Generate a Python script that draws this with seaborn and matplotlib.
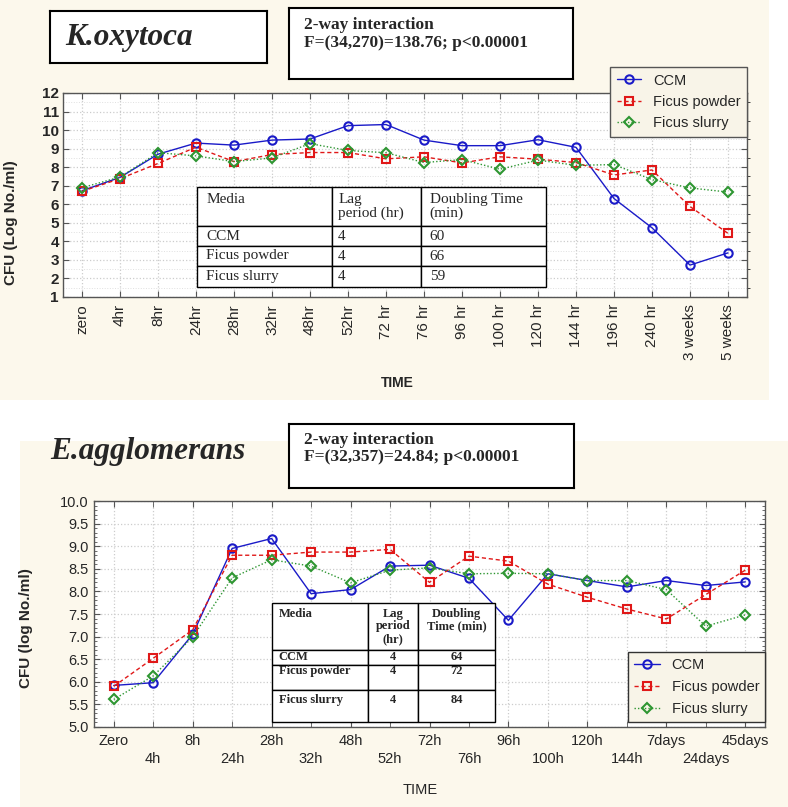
import numpy as np
import matplotlib
matplotlib.use("Agg")
import matplotlib.pyplot as plt
import seaborn as sns
from matplotlib.patches import Rectangle
from matplotlib.ticker import MultipleLocator

# ------------------------------------------------------------------
# Data
# ------------------------------------------------------------------
ko_times = ["zero", "4hr", "8hr", "24hr", "28hr", "32hr", "48hr", "52hr",
            "72 hr", "76 hr", "96 hr", "100 hr", "120 hr", "144 hr",
            "196 hr", "240 hr", "3 weeks", "5 weeks"]
ko_ccm = [6.73, 7.45, 8.70, 9.30, 9.19, 9.46, 9.52, 10.24, 10.30, 9.46,
          9.16, 9.16, 9.48, 9.07, 6.31, 4.73, 2.72, 3.38]
ko_powder = [6.70, 7.38, 8.20, 9.08, 8.30, 8.68, 8.79, 8.79, 8.45, 8.56,
             8.23, 8.56, 8.43, 8.25, 7.58, 7.85, 5.88, 4.43]
ko_slurry = [6.89, 7.47, 8.78, 8.61, 8.30, 8.50, 9.27, 8.90, 8.78, 8.25,
             8.41, 7.89, 8.38, 8.10, 8.14, 7.33, 6.88, 6.66]

ea_times = ["Zero", "4h", "8h", "24h", "28h", "32h", "48h", "52h", "72h",
            "76h", "96h", "100h", "120h", "144h", "7days", "24days", "45days"]
ea_ccm = [5.92, 5.98, 7.05, 8.95, 9.17, 7.95, 8.04, 8.56, 8.58, 8.29,
          7.36, 8.39, 8.24, 8.10, 8.24, 8.13, 8.21]
ea_powder = [5.90, 6.52, 7.15, 8.80, 8.80, 8.87, 8.87, 8.93, 8.20, 8.78,
             8.67, 8.16, 7.87, 7.61, 7.39, 7.93, 8.47]
ea_slurry = [5.61, 6.13, 6.99, 8.30, 8.70, 8.56, 8.19, 8.47, 8.52, 8.39,
             8.40, 8.39, 8.24, 8.24, 8.04, 7.23, 7.48]

media = ["CCM", "Ficus powder", "Ficus slurry"]
lag_hr = [4, 4, 4]
ko_doubling = [60, 66, 59]
ea_doubling = [64, 72, 84]

# ------------------------------------------------------------------
# Style
# ------------------------------------------------------------------
W, H = 788, 807
CREAM = "#fcf8ec"
BLUE = "#1a1ac8"
RED = "#e01818"
GREEN = "#2e9632"
SANS = "Liberation Sans"
SERIF = "Liberation Serif"

sns.set_style("ticks")
plt.rcParams["font.family"] = [SANS, "DejaVu Sans"]

fig = plt.figure(figsize=(W / 100, H / 100), dpi=100, facecolor="white")


def px_axes(x0, y0, x1, y1):
    """axes placed in reference pixel coordinates (origin top-left)"""
    return fig.add_axes([x0 / W, 1 - y1 / H, (x1 - x0) / W, (y1 - y0) / H])


def box(x0, y0, x1, y1, lw=1.5):
    b = px_axes(x0, y0, x1, y1)
    b.set_xlim(x0, x1)
    b.set_ylim(y1, y0)
    b.set_xticks([])
    b.set_yticks([])
    b.set_facecolor("white")
    for s in b.spines.values():
        s.set_linewidth(lw)
        s.set_color("black")
    return b


# cream panels behind each chart
fig.patches.append(Rectangle((0, 1 - 400 / H), 769 / W, 400 / H,
                             transform=fig.transFigure, facecolor=CREAM,
                             edgecolor="none", zorder=-10))
fig.patches.append(Rectangle((20 / W, 0), (W - 20) / W, (H - 441) / H,
                             transform=fig.transFigure, facecolor=CREAM,
                             edgecolor="none", zorder=-10))


def draw_series(ax, times, ccm, powder, slurry):
    x = np.arange(len(times))
    series = [
        ("CCM", ccm, BLUE, "o", "-"),
        ("Ficus powder", powder, RED, "s", (0, (3, 2))),
        ("Ficus slurry", slurry, GREEN, "D", (0, (1, 1.5))),
    ]
    for name, vals, color, marker, ls in series:
        sns.lineplot(x=x, y=vals, ax=ax, color=color, marker=marker,
                     linestyle=ls, lw=1.0, markersize=6 if marker != "D" else 5,
                     markerfacecolor="none", markeredgecolor=color,
                     markeredgewidth=1.5, label=name, sort=False,
                     errorbar=None, legend=False)
    ax.set_xlim(-0.5, len(times) - 0.5)
    ax.set_xticks(x)
    ax.set_facecolor("white")
    for s in ax.spines.values():
        s.set_visible(True)
        s.set_color("#555555")
        s.set_linewidth(1.0)
    ax.tick_params(direction="in", top=True, right=True, length=4,
                   color="#555555")
    ax.set_xlabel("")
    ax.set_ylabel("")
    return x


def make_table(x0, y0, col_px, row_px, rows, fontsize, weight, aligns):
    tax = px_axes(x0, y0, x0 + sum(col_px), y0 + sum(row_px))
    tax.axis("off")
    tbl = tax.table(cellText=rows, colWidths=col_px, bbox=[0, 0, 1, 1],
                    cellLoc="left")
    tbl.auto_set_font_size(False)
    tbl.set_fontsize(fontsize)
    for (r, c), cell in tbl.get_celld().items():
        cell.set_height(row_px[r])
        cell.set_linewidth(1.0)
        cell.set_edgecolor("black")
        cell.set_facecolor("white")
        cell.PAD = 0.07
        cell.set_text_props(family=SERIF, weight=weight, ha=aligns[c],
                            linespacing=1.05)
        cell._loc = aligns[c]
    return tbl


def style_legend(leg, edge):
    frame = leg.get_frame()
    frame.set_facecolor("#f8f4e8")
    frame.set_edgecolor(edge)
    frame.set_alpha(1)


# ------------------------------------------------------------------
# Top chart: K.oxytoca
# ------------------------------------------------------------------
ax1 = px_axes(63, 93, 747, 297)
draw_series(ax1, ko_times, ko_ccm, ko_powder, ko_slurry)
ax1.set_ylim(1, 12)
ax1.set_yticks(range(1, 13))
ax1.yaxis.set_minor_locator(MultipleLocator(0.5))
ax1.grid(True, which="major", color="#cccccc", ls=":", lw=0.9)
ax1.grid(True, which="minor", axis="y", color="#e0e0e0", ls=":", lw=0.7)
ax1.tick_params(which="minor", left=False, right=True, length=2)
ax1.set_xticklabels(ko_times, rotation=90, fontsize=11)
ax1.tick_params(axis="x", pad=5)
for lab in ax1.get_yticklabels():
    lab.set_fontweight("bold")
    lab.set_fontsize(11)
ax1.tick_params(axis="y", pad=3)
ax1.set_ylabel("CFU (Log No./ml)", fontsize=11, fontweight="bold")
ax1.yaxis.set_label_coords((18 - 63) / 684, (297 - 223) / 204)
fig.text(397 / W, 1 - 383 / H, "TIME", ha="center", va="center",
         fontsize=10, fontweight="bold")

leg1 = ax1.legend(loc="upper left", bbox_to_anchor=(610 / W, 1 - 67 / H),
                  bbox_transform=fig.transFigure, fontsize=10.5,
                  frameon=True, fancybox=False, handlelength=1.7,
                  handletextpad=0.8, borderpad=0.45, labelspacing=0.5,
                  borderaxespad=0)
style_legend(leg1, "#555555")

make_table(197, 187, [135, 89, 125], [39, 20, 20, 21],
           [["Media\n", "Lag\nperiod (hr)", "Doubling Time\n(min)"]]
           + [[m, str(l), str(d)] for m, l, d in zip(media, lag_hr, ko_doubling)],
           11, "normal", ["left", "left", "left"])

b = box(50, 11, 267, 63)
b.text(65, 37, "K.oxytoca", ha="left", va="center", fontsize=22.5,
       fontweight="bold", fontstyle="italic", family=SERIF)
b = box(289, 8, 573, 79)
b.text(304, 17, "2-way interaction\nF=(34,270)=138.76; p<0.00001",
       ha="left", va="top", fontsize=12.5, fontweight="bold",
       family=SERIF, linespacing=1.2)

# ------------------------------------------------------------------
# Bottom chart: E.agglomerans
# ------------------------------------------------------------------
ax2 = px_axes(94, 501, 765, 727)
x2 = draw_series(ax2, ea_times, ea_ccm, ea_powder, ea_slurry)
ax2.set_ylim(5.0, 10.0)
ax2.set_yticks(np.arange(5.0, 10.01, 0.5))
ax2.set_yticklabels([f"{v:.1f}" for v in np.arange(5.0, 10.01, 0.5)],
                    fontsize=10.5)
ax2.yaxis.set_minor_locator(MultipleLocator(0.1))
# staggered time labels: even positions on the first row, odd on the second
ax2.set_xticks(x2[::2])
ax2.set_xticklabels(ea_times[::2], fontsize=10.5)
ax2.set_xticks(x2[1::2], minor=True)
ax2.set_xticklabels(ea_times[1::2], minor=True, fontsize=10.5)
ax2.tick_params(axis="x", which="major", pad=5)
ax2.tick_params(axis="x", which="minor", pad=18, length=4, direction="in",
                top=True, color="#555555")
ax2.tick_params(axis="y", which="minor", left=True, right=True, length=2,
                direction="in", color="#555555")
ax2.grid(True, which="major", color="#cccccc", ls=":", lw=0.9)
ax2.grid(True, which="minor", axis="x", color="#cccccc", ls=":", lw=0.9)
ax2.tick_params(axis="y", pad=4)
ax2.set_ylabel("CFU (log No./ml)", fontsize=11, fontweight="bold")
ax2.yaxis.set_label_coords((33 - 94) / 671, (727 - 628) / 226)
fig.text(420 / W, 1 - 790 / H, "TIME", ha="center", va="center",
         fontsize=10.5)

leg2 = ax2.legend(loc="upper left", bbox_to_anchor=(628 / W, 1 - 652 / H),
                  bbox_transform=fig.transFigure, fontsize=10.5,
                  frameon=True, fancybox=False, handlelength=1.8,
                  handletextpad=0.8, borderpad=0.4, labelspacing=0.55,
                  borderaxespad=0)
style_legend(leg2, "#333333")

make_table(272, 603, [96, 50, 77], [47, 15, 25, 32],
           [["Media\n\n", "Lag\nperiod\n(hr)", "Doubling\nTime (min)\n"]]
           + [["CCM", str(lag_hr[0]), str(ea_doubling[0])],
              ["Ficus powder\n", f"{lag_hr[1]}\n", f"{ea_doubling[1]}\n"],
              ["Ficus slurry\n", f"{lag_hr[2]}\n", f"{ea_doubling[2]}\n"]],
           9, "bold", ["left", "center", "center"])

fig.text(50 / W, 1 - 452 / H, "E.agglomerans", ha="left", va="center",
         fontsize=22.5, fontweight="bold", fontstyle="italic", family=SERIF)
b = box(289, 424, 574, 488)
b.text(304, 432, "2-way interaction\nF=(32,357)=24.84; p<0.00001",
       ha="left", va="top", fontsize=12.5, fontweight="bold",
       family=SERIF, linespacing=1.05)

fig.savefig("out.png", dpi=100, facecolor="white")
